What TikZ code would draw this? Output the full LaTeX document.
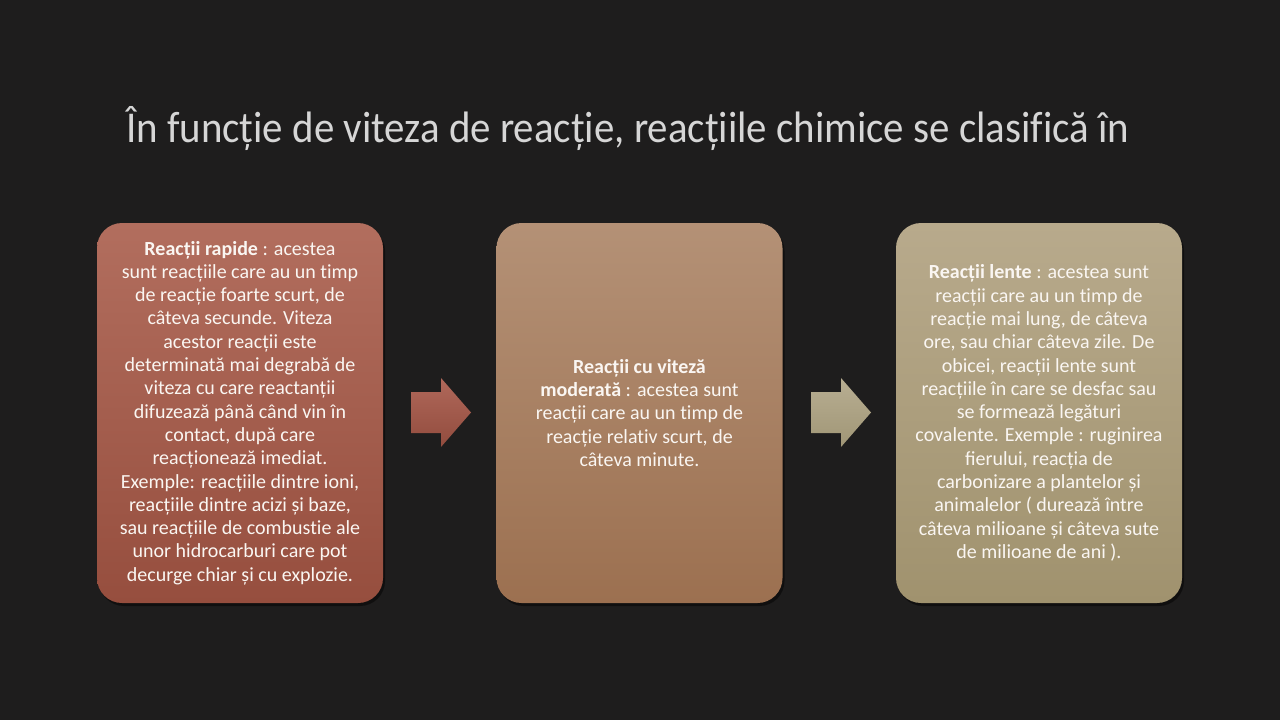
\documentclass[tikz,border=0pt]{standalone}
\usepackage{fontspec}
\setmainfont[Ligatures={NoCommon}]{Carlito}
\usepackage{graphicx}
\usetikzlibrary{shadows}
\definecolor{bgc}{RGB}{30,29,29}
\definecolor{titlec}{RGB}{214,214,214}
\definecolor{txt}{RGB}{250,246,242}
\definecolor{aTop}{RGB}{178,110,94}
\definecolor{aBot}{RGB}{150,78,62}
\definecolor{bTop}{RGB}{180,145,118}
\definecolor{bBot}{RGB}{156,112,80}
\definecolor{cTop}{RGB}{184,170,140}
\definecolor{cBot}{RGB}{160,146,110}
\definecolor{arATop}{RGB}{176,104,90}
\definecolor{arABot}{RGB}{146,76,62}
\definecolor{arBTop}{RGB}{184,174,146}
\definecolor{arBBot}{RGB}{160,150,118}
\tikzset{
  card/.style={minimum width=286pt, minimum height=380pt, rounded corners=25pt,
    inner sep=0pt, align=center, text=txt, draw=none,
    font=\fontsize{20}{23.3}\selectfont,
    drop shadow={shadow xshift=2pt, shadow yshift=-3pt, opacity=0.45, fill=black}},
  ttl/.style={text=titlec, inner sep=0pt, anchor=base west},
}
\begin{document}
\begin{tikzpicture}[x=1pt,y=-1pt]
\useasboundingbox (0,0) rectangle (1280,720);
\fill[bgc] (0,0) rectangle (1280,720);

\node[ttl] (title) at (126,142) {\resizebox{1003pt}{\height}{\fontsize{44}{50}\selectfont În funcție de viteza de reacție, reacțiile chimice se clasifică în}};

\node[card, top color=aTop, bottom color=aBot] (b1) at (240,413) {%
\textbf{Reacții rapide} : acestea\\
sunt reacțiile care au un timp\\
de reacție foarte scurt, de\\
câteva secunde. Viteza\\
acestor reacții este\\
determinată mai degrabă de\\
viteza cu care reactanții\\
difuzează până când vin în\\
contact, după care\\
reacționează imediat.\\
Exemple: reacțiile dintre ioni,\\
reacțiile dintre acizi și baze,\\
sau reacțiile de combustie ale\\
unor hidrocarburi care pot\\
decurge chiar și cu explozie.};

\node[card, top color=bTop, bottom color=bBot] (b2) at (639.5,413) {%
\textbf{Reacții cu viteză}\\
\textbf{moderată} : acestea sunt\\
reacții care au un timp de\\
reacție relativ scurt, de\\
câteva minute.};

\node[card, top color=cTop, bottom color=cBot] (b3) at (1039,413) {%
\textbf{Reacții lente} : acestea sunt\\
reacții care au un timp de\\
reacție mai lung, de câteva\\
ore, sau chiar câteva zile. De\\
obicei, reacții lente sunt\\
reacțiile în care se desfac sau\\
se formează legături\\
covalente. Exemple : ruginirea\\
ﬁerului, reacția de\\
carbonizare a plantelor și\\
animalelor ( durează între\\
câteva milioane și câteva sute\\
de milioane de ani ).};

% arrows
\shade[top color=arATop, bottom color=arABot]
  (411,392) -- (441,392) -- (441,378) -- (471,412.5) -- (441,447) -- (441,433) -- (411,433) -- cycle;
\shade[top color=arBTop, bottom color=arBBot]
  (811,392) -- (841,392) -- (841,378) -- (871,412.5) -- (841,447) -- (841,433) -- (811,433) -- cycle;
\end{tikzpicture}
\end{document}
